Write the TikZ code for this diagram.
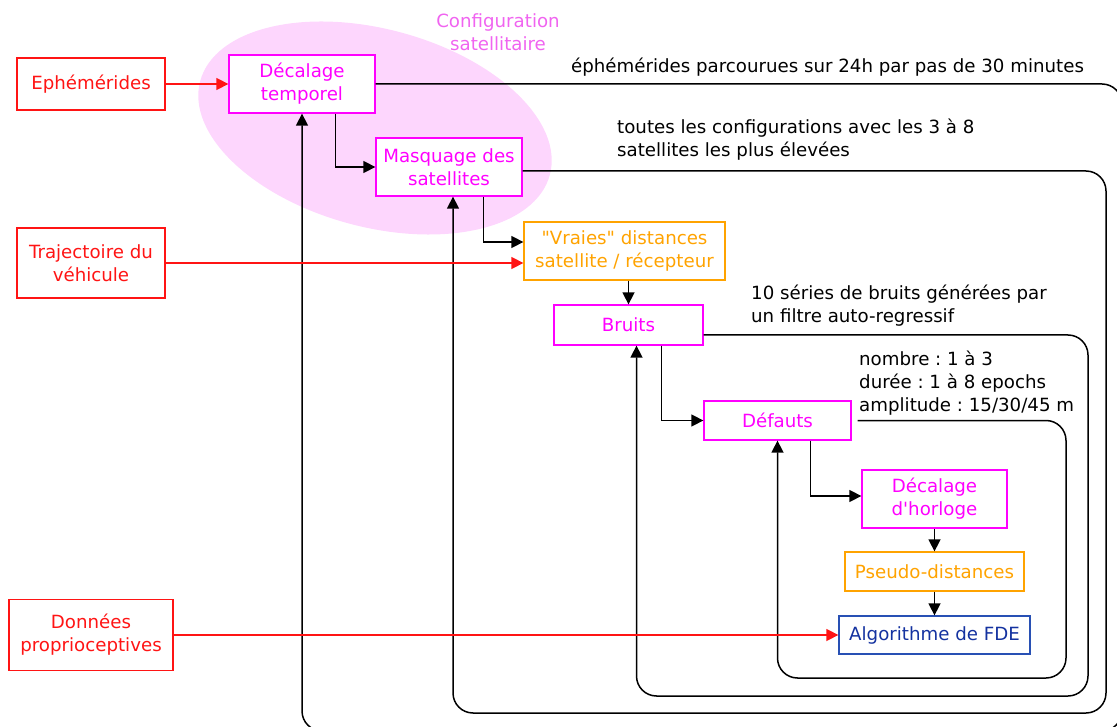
\documentclass[tikz,border=0pt]{standalone}
\usepackage{fontspec}
\newfontfamily\dv{DejaVu Sans}
\usetikzlibrary{arrows.meta}
\definecolor{mag}{RGB}{255,0,255}
\definecolor{magl}{RGB}{240,100,240}
\definecolor{pinkfill}{RGB}{253,214,253}
\definecolor{org}{RGB}{255,163,0}
\definecolor{rd}{RGB}{255,20,20}
\definecolor{bluebd}{RGB}{40,80,180}
\definecolor{bluetx}{RGB}{20,50,160}
\begin{document}
\frenchspacing
\begin{tikzpicture}[x=1pt,y=-1pt,
  txt/.style={font=\dv\fontsize{18.2}{23}\selectfont},
  box/.style={txt,draw,fill=white,line width=1.3pt,align=center,inner sep=0pt},
  redbox/.style={box,draw=rd,text=rd},
  magbox/.style={box,draw=mag,text=mag},
  orgbox/.style={box,draw=org,text=org},
  bluebox/.style={box,draw=bluebd,text=bluetx},
  note/.style={txt,anchor=west,align=left,inner sep=0pt},
  blk/.style={draw=black,line width=1.5pt,-{Triangle[length=12pt,width=12pt]}},
  redl/.style={draw=rd,line width=1.5pt,-{Triangle[length=12pt,width=12pt]}},
  fb/.style={blk,rounded corners=20pt}]
\useasboundingbox (0,0) rectangle (1117,727);
\clip (0,0) rectangle (1117,727);
% ellipse
\fill[pinkfill,rotate around={-15:(375,128)}] (375,128) ellipse [x radius=181, y radius=99];
\node[txt,text=magl,align=center,inner sep=0pt] (conf) at (498,32) {Configuration\\satellitaire};
% boxes
\node[redbox,minimum width=148pt,minimum height=52pt] (eph) at (91,84) {Ephémérides};
\node[redbox,minimum width=148pt,minimum height=70pt] (traj) at (91,263) {Trajectoire du\\véhicule};
\node[redbox,minimum width=164pt,minimum height=71pt] (don) at (91,635) {Données\\proprioceptives};
\node[magbox,minimum width=146pt,minimum height=58pt] (dec) at (302,84) {Décalage\\temporel};
\node[magbox,minimum width=146pt,minimum height=58pt] (mas) at (449,167) {Masquage des\\satellites};
\node[orgbox,minimum width=201pt,minimum height=58pt] (vra) at (624.5,251) {"Vraies" distances\\satellite / récepteur};
\node[magbox,minimum width=149pt,minimum height=40pt] (bru) at (628.5,325) {Bruits};
\node[magbox,minimum width=147pt,minimum height=39pt] (def) at (777.5,420.5) {Défauts};
\node[magbox,minimum width=145pt,minimum height=58pt] (hor) at (934.5,499) {Décalage\\d'horloge};
\node[orgbox,minimum width=179pt,minimum height=39pt] (pse) at (934.5,571.5) {Pseudo-distances};
\node[bluebox,minimum width=191pt,minimum height=38pt] (alg) at (934.5,635) {Algorithme de FDE};
% notes
\node[note] (n1) at (571,67) {éphémérides parcourues sur 24h par pas de 30 minutes};
\node[note] (n2) at (617,140) {toutes les configurations avec les 3 à 8\\satellites les plus élevées};
\node[note] (n3) at (751,306) {10 séries de bruits générées par\\un filtre auto-regressif};
\node[note] (n4) at (859,383) {nombre : 1 à 3\\durée : 1 à 8 epochs\\amplitude : 15/30/45 m};
% loop corners
\coordinate (aR) at (1122,731);
\coordinate (bR) at (1106,713);
\coordinate (cR) at (1088,696);
\coordinate (dR) at (1066,678);
% feedback loops
\draw[fb] (dec.east) -| (aR) -| (dec.south);
\draw[fb] ([yshift=-4pt]mas.east) -| (bR) -| ([xshift=4pt]mas.south);
\draw[fb] ([yshift=-10pt]bru.east) -| (cR) -| ([xshift=8pt]bru.south);
\draw[fb] ([xshift=6pt]def.east) -| (dR) -| (def.south);
% forward connectors
\draw[redl] (eph) -- (dec);
\draw[blk] ([xshift=-40pt]dec.south east) |- (mas.west);
\draw[blk] ([xshift=-39pt]mas.south east) |- ([yshift=9pt]vra.west);
\draw[redl] (traj.east) -- (traj.east -| vra.west);
\draw[blk] (bru.north |- vra.south) -- (bru.north);
\draw[blk] ([xshift=-42pt]bru.south east) |- (def.west);
\draw[blk] ([xshift=-41pt]def.south east) |- ([yshift=3pt]hor.west);
\draw[blk] (hor.south) -- (pse.north);
\draw[blk] (pse.south) -- (alg.north);
\draw[redl] (don.east) -- (don.east -| alg.west);
\end{tikzpicture}
\end{document}
